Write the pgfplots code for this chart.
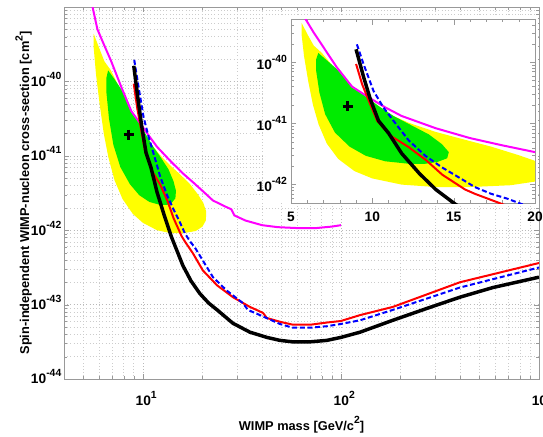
\documentclass[border=0pt]{standalone}
\usepackage{fontspec}
\setmainfont{Liberation Sans}
\usepackage{pgfplots}
\usepackage{pgfplotstable}
\pgfplotsset{compat=1.18}
\usetikzlibrary{calc}
\definecolor{cyellow}{RGB}{255,255,0}
\definecolor{cgreen}{RGB}{0,235,0}
\definecolor{cmag}{RGB}{255,0,255}
\definecolor{cred}{RGB}{255,0,0}
\definecolor{cblue}{RGB}{0,0,255}
\newcommand\tl{\fontsize{10.3}{12}\selectfont\bfseries}
\newcommand\lb{\fontsize{9.6}{11}\selectfont\bfseries}
\newcommand\sups[1]{\raisebox{0.5em}{\fontsize{7.8}{8}\selectfont\bfseries #1}}

\pgfplotstableread{
m s
5.65 4.37e-40
6.08 2.63e-40
6.4 1.86e-40
6.9 1.41e-40
7.8 7.24e-41
8.8 3.47e-41
9.8 2.19e-41
10.5 1.74e-41
11.3 1.32e-41
12.24 1.02e-41
13.9 7.24e-42
15.3 5.75e-42
17.3 4.17e-42
19.0 3.02e-42
20.2 2.34e-42
20.9 1.78e-42
20.8 1.35e-42
20.0 1.12e-42
18.5 9.77e-43
16.0 9.12e-43
13.9 9.12e-43
11.8 1.00e-42
10.0 1.26e-42
8.9 1.66e-42
7.9 2.63e-42
7.2 4.68e-42
6.7 9.55e-42
6.35 2.00e-41
6.05 5.01e-41
5.8 1.26e-40
5.65 2.82e-40
}\yellowtab

\pgfplotstableread{
m s
6.68 1.41e-40
7.2 1.07e-40
7.8 7.76e-41
8.8 3.98e-41
9.6 2.75e-41
10.4 1.91e-41
11.3 1.32e-41
12.24 9.77e-42
13.47 6.61e-42
14.28 4.57e-42
14.7 3.39e-42
14.6 2.69e-42
14.0 2.34e-42
13.26 2.19e-42
12.24 2.19e-42
10.8 2.40e-42
9.6 2.95e-42
8.6 4.17e-42
7.7 7.08e-42
7.1 1.41e-41
6.75 3.16e-41
6.55 7.08e-41
6.55 1.12e-40
}\greentab

\pgfplotstableread{
m s
5.45 1.32e-39
5.9 5.01e-40
6.4 3.02e-40
6.9 1.91e-40
7.8 8.32e-41
8.75 3.98e-41
9.8 2.63e-41
10.8 1.82e-41
11.8 1.32e-41
13.9 8.32e-42
16 5.75e-42
18 4.37e-42
20 3.39e-42
22.6 2.51e-42
26 2.09e-42
28 1.91e-42
29 1.58e-42
33 1.35e-42
40 1.17e-42
48 1.10e-42
60 1.07e-42
75 1.07e-42
90 1.12e-42
100 1.17e-42
}\magtab

\pgfplotstableread{
m s
9.0 9.33e-41
9.37 4.37e-41
9.87 2.04e-41
10.3 1.10e-41
11.1 6.31e-42
12.25 4.07e-42
13.3 2.51e-42
14.3 1.45e-42
15.7 8.32e-43
16.3 7.08e-43
17.9 4.90e-43
20.1 2.88e-43
23.7 1.82e-43
28.5 1.26e-43
34.7 9.33e-44
40.4 7.76e-44
42.3 6.61e-44
49.2 5.89e-44
57.3 5.37e-44
70 5.37e-44
84.9 5.75e-44
100 6.03e-44
125 7.24e-44
183 9.33e-44
399 2.00e-43
1000 3.63e-43
}\redtab

\pgfplotstableread{
m s
9.05 1.95e-40
9.47 9.12e-41
10.07 3.39e-41
10.68 1.82e-41
11.3 1.10e-41
12.24 5.25e-42
13.26 2.95e-42
14.28 1.91e-42
15.3 1.32e-42
16.3 9.12e-43
17.3 7.08e-43
18.3 5.89e-43
19.4 4.57e-43
22.6 2.34e-43
26.5 1.55e-43
32 1.05e-43
33.9 8.51e-44
39 7.24e-44
49.2 5.50e-44
57 4.90e-44
70 4.90e-44
85 5.13e-44
100 5.50e-44
125 6.17e-44
183 8.51e-44
399 1.70e-43
1000 3.16e-43
}\bluetab

\pgfplotstableread{
m s
9.0 1.62e-40
9.47 5.62e-41
9.87 2.51e-41
10.38 1.10e-41
11.0 6.92e-42
11.8 3.24e-42
12.9 1.51e-42
13.9 8.32e-43
15.0 5.01e-43
15.9 3.39e-43
17.5 2.09e-43
19.4 1.41e-43
21.5 1.05e-43
23.7 8.51e-44
28.5 5.62e-44
34.7 4.27e-44
42.3 3.63e-44
49.2 3.31e-44
57.3 3.16e-44
69.7 3.16e-44
84.9 3.31e-44
100 3.63e-44
125 4.27e-44
183 6.17e-44
272 8.91e-44
399 1.26e-43
586 1.70e-43
1000 2.34e-43
}\blacktab

\pgfplotstableread{
m s
8.5 1.91e-41
}\crosstab

\newcommand\drawcurves{%
  \addplot[fill=cyellow, draw=none] table {\yellowtab} -- cycle;
  \addplot[fill=cgreen, draw=none] table {\greentab} -- cycle;
  \addplot[cmag, line width=1.5pt] table {\magtab};
  \addplot[cred, line width=1.5pt] table {\redtab};
  \addplot[cblue, line width=1.5pt, dash pattern=on 3.75pt off 2pt] table {\bluetab};
  \addplot[black, line width=2.6pt] table {\blacktab};
  \addplot[black, only marks, mark=+, mark size=3.9pt,
    mark options={draw=black, line width=2.2pt},
    every mark/.append style={line width=2.2pt}] table {\crosstab};
}

\begin{document}
\begin{tikzpicture}
\begin{axis}[name=main, scale only axis, width=356.25pt, height=279pt,
  xmode=log, ymode=log, xmin=4, xmax=1000, ymin=1e-44, ymax=1e-39,
  xtick={1,10,100,1000},
  xticklabels={{},10\sups{1},10\sups{2},10\sups{3}},
  ytick={1e-44,1e-43,1e-42,1e-41,1e-40,1e-39},
  yticklabels={10\sups{-44},10\sups{-43},10\sups{-42},10\sups{-41},10\sups{-40},{}},
  grid=both, major grid style={dotted, gray!55}, minor grid style={dotted, gray!40},
  axis line style={gray!80}, tick style={gray!80}, tick align=inside,
  major tick length=4pt, minor tick length=2pt,
  every tick label/.append style={font=\tl},
  xticklabel style={anchor=base, yshift=-19.5pt, xshift=2.5pt},
  yticklabel style={anchor=base east, yshift=-3.6pt, xshift=1.5pt},
  xlabel={WIMP mass [GeV/c\sups{2}]},
  ylabel={Spin-independent WIMP-nucleon cross-section [cm\sups{2}]},
  label style={font=\lb},
  xlabel style={at={(axis description cs:0.5,-0.137)}, anchor=base},
  ylabel style={at={(axis description cs:-0.085,0.5)}, anchor=center},
]
\drawcurves
\end{axis}
\fill[white] ($(main.south west)+(151.5pt,132pt)$) rectangle ($(main.south west)+(355.5pt,271.5pt)$);
\begin{axis}[at={($(main.south west)+(170.25pt,132pt)$)}, anchor=south west,
  scale only axis, width=183pt, height=137.8pt,
  ymode=log, xmin=5, xmax=20, ymin=5e-43, ymax=5e-40,
  xtick={5,10,15,20}, xticklabels={5,10,15,20}, minor x tick num=4,
  ytick={1e-43,1e-42,1e-41,1e-40,1e-39},
  yticklabels={{},10\sups{-42},10\sups{-41},10\sups{-40},{}},
  axis background/.style={fill=white},
  axis line style={gray!80}, tick style={gray!80}, tick align=inside,
  major tick length=4pt, minor tick length=2pt,
  every tick label/.append style={font=\tl},
  xticklabel style={yshift=-3pt},
  yticklabel style={xshift=0.5pt},
]
\drawcurves
\end{axis}
\pgfresetboundingbox
\path ($(main.south west)+(-48pt,-42.75pt)$) rectangle ($(main.north east)+(3pt,5.25pt)$);
\end{tikzpicture}
\end{document}
